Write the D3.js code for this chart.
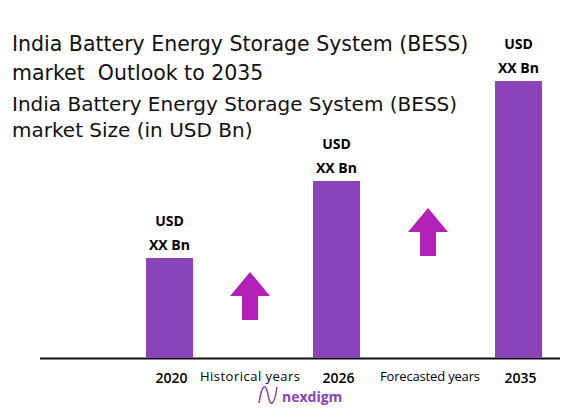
<!DOCTYPE html><html><head><meta charset="utf-8"><script src="https://cdn.jsdelivr.net/npm/d3@7"></script>
<style>body{margin:0;background:#fff}</style></head><body><svg width="578" height="412" font-family="Open Sans, Roboto, sans-serif"></svg>
<script>
const categories=["2020","2026","2035"];
const values=[100,177,277];
const barLabels=["USD","XX Bn"];
const periodLabels=["Historical years","Forecasted years"];
const svg=d3.select("svg");
const x=d3.scaleLinear().domain([0,1,2]).range([169.5,336.5,518.5]);
const y=d3.scaleLinear().domain([0,277]).range([358,81]);
const bw=47;
svg.append("line").attr("x1",40).attr("x2",560).attr("y1",358.5).attr("y2",358.5).attr("stroke","#111").attr("stroke-width",2);
svg.selectAll("rect.b").data(values).join("rect").attr("x",(d,i)=>x(i)-bw/2).attr("y",d=>y(d)).attr("width",bw).attr("height",d=>y(0)-y(d)).attr("fill","#8a43b9");
values.forEach((d,i)=>{barLabels.forEach((t,j)=>svg.append("text").attr("x",x(i)).attr("y",y(d)-32+j*24).attr("text-anchor","middle").attr("font-size",14).attr("font-weight","bold").text(t));
 svg.append("text").attr("x",x(i)+2).attr("y",383).attr("text-anchor","middle").attr("font-size",14).attr("font-weight",600).text(categories[i]);});
[[250,periodLabels[0]],[430,periodLabels[1]]].forEach(([cx,t])=>svg.append("text").attr("x",cx).attr("y",381).attr("text-anchor","middle").attr("font-size",13).attr("textLength",100).text(t));
function arrow(cx,ty){svg.append("path").attr("fill","#b421b9").attr("d",`M${cx},${ty} L${cx+20},${ty+24} L${cx+8},${ty+24} L${cx+8},${ty+48} L${cx-8},${ty+48} L${cx-8},${ty+24} L${cx-20},${ty+24}Z`);}
arrow(250,272);arrow(428,208);
const T=[["India Battery Energy Storage System (BESS)",51,20.5],["market  Outlook to 2035",80,20.5],["India Battery Energy Storage System (BESS)",111,20],["market Size (in USD Bn)",137,20]];
T.forEach(([t,yy,fs])=>svg.append("text").attr("x",12).attr("y",yy).attr("font-size",fs).attr("fill","#111").attr("font-family","DejaVu Sans").attr("xml:space","preserve").text(t));
svg.append("path").attr("d","M259,403 C262,383 266,383 268,395 C270,407 274,407 277,387").attr("fill","none").attr("stroke","#8a43b9").attr("stroke-width",1.5);
svg.append("text").attr("x",282).attr("y",402).attr("font-size",14).attr("font-weight","bold").attr("fill","#8a43b9").text("nexdigm");
</script></body></html>
